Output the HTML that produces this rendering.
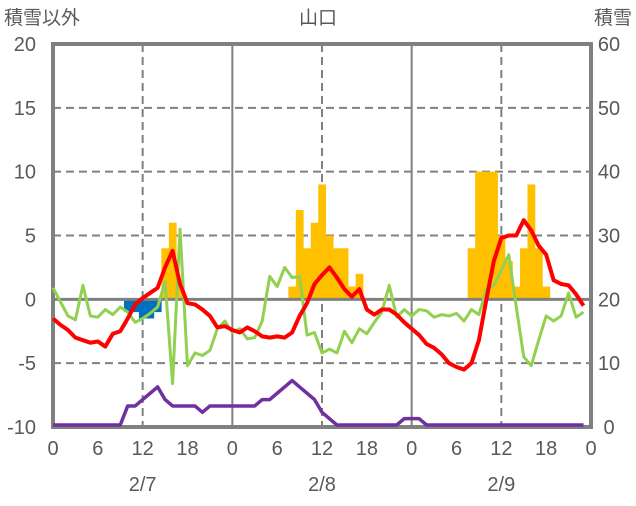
<!DOCTYPE html>
<html><head><meta charset="utf-8"><style>
body{margin:0;background:#fff;}
svg text{font-family:"Liberation Sans","Noto Sans CJK JP",sans-serif;fill:#595959;}
</style></head><body>
<svg id="c" width="636" height="501" viewBox="0 0 636 501"></svg>
<script>
const hours = Array.from({length:72},(_,i)=>i);
const temp = [-1.5,-2.0,-2.4,-3.0,-3.2,-3.4,-3.3,-3.7,-2.7,-2.5,-1.5,-0.4,0.1,0.5,0.9,2.5,3.8,1.2,-0.3,-0.4,-0.8,-1.3,-2.2,-2.1,
-2.4,-2.6,-2.2,-2.5,-2.9,-3.0,-2.9,-3.0,-2.6,-1.3,-0.3,1.2,1.9,2.5,1.7,0.8,0.2,0.8,-0.8,-1.2,-0.8,-0.8,-1.2,-1.8,
-2.3,-2.8,-3.5,-3.8,-4.3,-5.0,-5.3,-5.5,-5.0,-3.2,0.0,3.0,4.8,5.0,5.0,6.2,5.4,4.2,3.5,1.5,1.2,1.1,0.4,-0.5];
const other = [0.9,-0.2,-1.3,-1.6,1.1,-1.3,-1.4,-0.8,-1.2,-0.6,-1.0,-1.8,-1.5,-1.1,-0.6,1.4,-6.6,5.5,-5.2,-4.2,-4.4,-4.0,-2.3,-1.7,
-2.6,-2.3,-3.1,-3.0,-1.7,1.8,1.0,2.5,1.7,1.8,-2.8,-2.6,-4.2,-3.9,-4.2,-2.5,-3.4,-2.3,-2.7,-1.8,-1.0,1.1,-1.4,-0.8,
-1.3,-0.8,-0.9,-1.4,-1.2,-1.3,-1.1,-1.7,-0.8,-1.2,0.8,1.1,2.3,3.5,-0.6,-4.5,-5.2,-3.2,-1.3,-1.7,-1.3,0.5,-1.4,-1.0];
const snowDepth = [0,0,0,0,0,0,0,0,0,0,3,3,4,5,6,4,3,3,3,3,2,3,3,3,
3,3,3,3,4,4,5,6,7,6,5,4,2,1,0,0,0,0,0,0,0,0,0,1,
1,1,0,0,0,0,0,0,0,0,0,0,0,0,0,0,0,0,0,0,0,0,0,0];
const snowfall = {15:4,16:6,17:1,32:1,33:7,34:4,35:6,36:9,37:5,38:4,39:4,40:1,41:2,56:4,57:10,58:10,59:10,60:5,61:3,62:1,63:4,64:9,65:4,66:1};
const melt = {10:-1,11:-1,12:-1.5,13:-1.5,14:-1};
const leftTicks = [20,15,10,5,0,-5,-10];
const rightTicks = [60,50,40,30,20,10,0];
const xTicks = [0,6,12,18,0,6,12,18,0,6,12,18,0];
const dayLabels = ["2/7","2/8","2/9"];

const X0=53,X1=591,Y0=44,Y1=427;
const xs=h=>X0+h*(X1-X0)/72;
const ys=v=>Y1-(v+10)*(Y1-Y0)/30;
const yr=s=>Y1-2-s*(Y1-2-Y0)/60;
const svg=document.getElementById('c');
const NS='http://www.w3.org/2000/svg';
function mk(t,a){const e=document.createElementNS(NS,t);for(const k in a)e.setAttribute(k,a[k]);svg.appendChild(e);return e;}

leftTicks.forEach(v=>{ if(v!==20&&v!==-10&&v!==0){const l=mk('line',{x1:X0,x2:X1,y1:ys(v),y2:ys(v),stroke:'#808080','stroke-width':2,'stroke-dasharray':'8,5'});

}});
for(let h=12;h<72;h+=24){const l=mk('line',{x1:xs(h),x2:xs(h),y1:Y0,y2:Y1,stroke:'#808080','stroke-width':2,'stroke-dasharray':'8,5'});

}
for(let h=24;h<72;h+=24){const l=mk('line',{x1:xs(h),x2:xs(h),y1:Y0,y2:Y1,stroke:'#808080','stroke-width':2});

}
const bw=(X1-X0)/72;
for(const k in snowfall){const v=snowfall[k];const r=mk('rect',{x:xs(+k)-bw/2,y:ys(v),width:bw+0.3,height:ys(0)-ys(v),fill:'#FFC000'});

}
for(const k in melt){const v=melt[k];const r=mk('rect',{x:xs(+k)-bw/2,y:ys(0),width:bw+0.3,height:ys(v)-ys(0),fill:'#0070C0'});

}
const z=mk('line',{x1:X0,x2:X1,y1:ys(0),y2:ys(0),stroke:'#808080','stroke-width':3});


const fr=mk('rect',{x:X0,y:Y0,width:X1-X0,height:Y1-Y0,fill:'none',stroke:'#808080','stroke-width':4});


function line(arr,f,col,w,name){const p=mk('polyline',{points:arr.map((v,i)=>xs(hours[i])+','+f(v)).join(' '),fill:'none',stroke:col,'stroke-width':w,'stroke-linejoin':'round'});

}
line(snowDepth,yr,'#7030A0',3.5,'snow-depth-line');
line(other,ys,'#92D050',3,'green-series-line');
line(temp,ys,'#FF0000',4,'temperature-line');
function txt(s,x,y,anchor,size,name){const t=mk('text',{x:x,y:y,'text-anchor':anchor,'font-size':size});t.textContent=s;

return t;}
leftTicks.forEach(v=>txt(String(v),36,ys(v)+7,'end',20,'left-tick-label'));
rightTicks.forEach(s=>txt(String(s),609,Y1-s*(Y1-Y0)/60+7,'middle',20,'right-tick-label'));
xTicks.forEach((s,i)=>txt(String(s),xs(i*6),455,'middle',20,'x-tick-label'));
dayLabels.forEach((s,i)=>txt(s,xs(12+24*i),491,'middle',20,'date-label'));
txt('積雪以外',4,24,'start',19,'left-axis-title');
txt('山口',318,24,'middle',19,'chart-title');
txt('積雪',632,24,'end',19,'right-axis-title');
</script>
</body></html>
